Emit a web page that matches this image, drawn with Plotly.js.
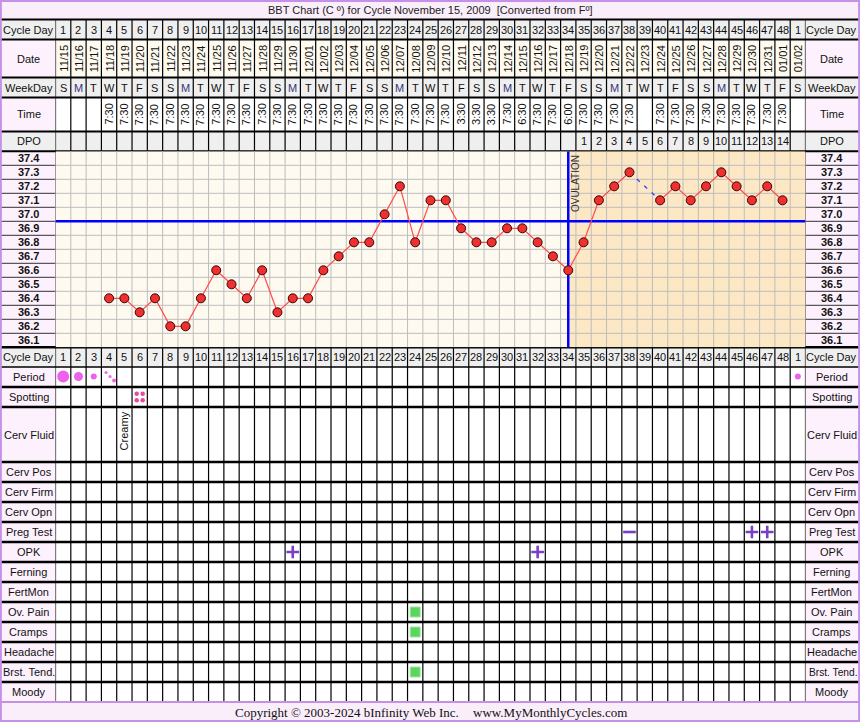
<!DOCTYPE html>
<html>
<head>
<meta charset="utf-8">
<script src="https://cdn.plot.ly/plotly-3.0.1.min.js"></script>
<style>
  html, body { margin: 0; padding: 0; background: #fff; overflow: hidden; }
  #chart { width: 860px; height: 722px; }
</style>
</head>
<body>
<div id="chart"></div>
<script>
// ---- Cycle data -------------------------------------------------------
const cycleDayLabels = ['1','2','3','4','5','6','7','8','9','10','11','12','13','14','15','16','17','18','19','20',
  '21','22','23','24','25','26','27','28','29','30','31','32','33','34','35','36','37','38','39','40',
  '41','42','43','44','45','46','47','48','1'];
const dates = ['11/15','11/16','11/17','11/18','11/19','11/20','11/21','11/22','11/23','11/24','11/25','11/26',
  '11/27','11/28','11/29','11/30','12/01','12/02','12/03','12/04','12/05','12/06','12/07','12/08','12/09',
  '12/10','12/11','12/12','12/13','12/14','12/15','12/16','12/17','12/18','12/19','12/20','12/21','12/22',
  '12/23','12/24','12/25','12/26','12/27','12/28','12/29','12/30','12/31','01/01','01/02'];
const weekDays = ['S','M','T','W','T','F','S','S','M','T','W','T','F','S','S','M','T','W','T','F','S',
  'S','M','T','W','T','F','S','S','M','T','W','T','F','S','S','M','T','W','T','F','S',
  'S','M','T','W','T','F','S'];
const times = ['','','','7:30','7:30','7:30','7:30','7:30','7:30','7:30','7:30','7:30','7:30','7:30','7:30',
  '7:30','7:30','7:30','7:30','7:30','7:30','7:30','7:30','7:30','7:30','7:30','3:30','3:30','3:30','7:30',
  '6:30','7:30','7:30','6:00','7:30','7:30','7:30','7:30','','7:30','7:30','7:30','7:30','7:30','7:30',
  '7:30','7:30','7:30',''];
const dpo = ['','','','','','','','','','','','','','','','','','','','','','','','','','','','','','','','','','',
  '1','2','3','4','5','6','7','8','9','10','11','12','13','14',''];
const temps = [null,null,null,36.4,36.4,36.3,36.4,36.2,36.2,36.4,36.6,36.5,36.4,36.6,36.3,36.4,36.4,36.6,
  36.7,36.8,36.8,37.0,37.2,36.8,37.1,37.1,36.9,36.8,36.8,36.9,36.9,36.8,36.7,36.6,36.8,37.1,37.2,37.3,
  null,37.1,37.2,37.1,37.2,37.3,37.2,37.1,37.2,37.1,null];
const tempTicks = [37.4,37.3,37.2,37.1,37.0,36.9,36.8,36.7,36.6,36.5,36.4,36.3,36.2,36.1];
const coverline = 36.95;
const ovulationDay = 34;

const periodFlow = ['heavy','medium','light','trace',null,null,null,null,null,null,null,null,null,null,null,null,
  null,null,null,null,null,null,null,null,null,null,null,null,null,null,null,null,null,null,null,null,null,
  null,null,null,null,null,null,null,null,null,null,null,'light'];
const spottingDays = [6];
const cervFluidDays = [5];
const cervFluidText = ['Creamy'];
const pregTestDays = [38, 46, 47];
const pregTestResults = ['-', '+', '+'];
const opkDays = [16, 32];
const opkResults = ['+', '+'];
const ovPainDays = [24];
const crampsDays = [24];
const headacheDays = [];
const breastTendDays = [24];
const moodyDays = [];

// ---- Page geometry (pixels) ------------------------------------------
const W = 860, H = 722;
const LX = 55.5, RX = 805.5;            // grid columns live between these
const nCols = cycleDayLabels.length;
const colW = (RX - LX) / nCols;
const chartTop = 151.3, chartBot = 347.3;
const fx = p => p / W;
const fy = p => 1 - p / H;
const days = cycleDayLabels.map((_, i) => i + 1);

const FONT = 'Liberation Sans, Arial, sans-serif';
const C = {
  pink: '#fdf1fd', grey: '#efefef', cream: '#fefaef', peach: '#fde8c5',
  grid: '#bdbdbd', border: '#c490e8', text: '#111111', purple: '#7b3fc6',
  period: '#e41fe6', spot: '#e64aa2', green: '#5ad65e', blue: '#0000ff'
};

const headRows = {
  title: [0, 19.5], cycle: [19.5, 39.5], date: [39.5, 77.5],
  week: [77.5, 97.5], time: [97.5, 131.5], dpo: [131.5, chartTop]
};
const tableRows = [
  ['Cycle Day', chartBot, 367], ['Period', 367, 387], ['Spotting', 387, 407],
  ['Cerv Fluid', 407, 462], ['Cerv Pos', 462, 482], ['Cerv Firm', 482, 502],
  ['Cerv Opn', 502, 522], ['Preg Test', 522, 542], ['OPK', 542, 562],
  ['Ferning', 562, 582], ['FertMon', 582, 602], ['Ov. Pain', 602, 622],
  ['Cramps', 622, 642], ['Headache', 642, 662], ['Brst. Tend.', 662, 682],
  ['Moody', 682, 702]
];
const rowMid = name => { const r = tableRows.find(t => t[0] === name); return (r[1] + r[2]) / 2; };

// ---- Shapes -----------------------------------------------------------
const shapes = [];
function rectPaper(x0, x1, y0, y1, fill) {
  shapes.push({type: 'rect', xref: 'paper', yref: 'paper', x0: fx(x0), x1: fx(x1), y0: fy(y0), y1: fy(y1),
    fillcolor: fill, line: {width: 0}, layer: 'below'});
}
function rectCols(y0, y1, fill) {
  shapes.push({type: 'rect', xref: 'x', yref: 'paper', x0: 0.5, x1: nCols + 0.5, y0: fy(y0), y1: fy(y1),
    fillcolor: fill, line: {width: 0}, layer: 'below'});
}
function hline(y, w, color, x0 = 0, x1 = W) {
  shapes.push({type: 'line', xref: 'paper', yref: 'paper', x0: fx(x0), x1: fx(x1), y0: fy(y), y1: fy(y),
    line: {color: color, width: w}, layer: 'below'});
}

// backgrounds
rectPaper(0, W, 0, 19.5, '#fbeefb');
rectPaper(0, W, 19.5, 39.5, C.grey);
rectPaper(0, W, 39.5, 77.5, C.pink); rectCols(39.5, 77.5, C.cream);
rectPaper(0, W, 77.5, 97.5, C.grey);
rectPaper(0, W, 97.5, 131.5, C.pink); rectCols(97.5, 131.5, '#ffffff');
rectPaper(0, W, 131.5, chartTop, C.grey);
rectPaper(0, W, chartTop, chartBot, C.pink);
shapes.push({type: 'rect', xref: 'x', yref: 'y', x0: 0.5, x1: ovulationDay, y0: 36.05, y1: 37.45,
  fillcolor: C.cream, line: {width: 0}, layer: 'below'});
shapes.push({type: 'rect', xref: 'x', yref: 'y', x0: ovulationDay, x1: nCols + 0.5, y0: 36.05, y1: 37.45,
  fillcolor: C.peach, line: {width: 0}, layer: 'below'});
tableRows.forEach((r, i) => {
  if (i === 0) { rectPaper(0, W, r[1], r[2], C.grey); }
  else { rectPaper(0, W, r[1], r[2], C.pink); rectCols(r[1], r[2], '#ffffff'); }
});
rectPaper(0, W, 702, H, '#fbeefb');

// chart grid (grey) and label-column separators
let gridPath = '';
for (let k = 1; k < nCols; k++) gridPath += `M${k + 0.5},36.05L${k + 0.5},37.45`;
tempTicks.slice(1).forEach(t => { const v = t + 0.05; gridPath += `M0.5,${v}L${nCols + 0.5},${v}`; });
shapes.push({type: 'path', xref: 'x', yref: 'y', path: gridPath, line: {color: C.grid, width: 1}, layer: 'below'});
tempTicks.slice(1).forEach(t => {
  const v = t + 0.05;
  shapes.push({type: 'line', xref: 'paper', yref: 'y', x0: 0, x1: fx(LX), y0: v, y1: v, line: {color: '#333', width: 1}, layer: 'below'});
  shapes.push({type: 'line', xref: 'paper', yref: 'y', x0: fx(RX), x1: 1, y0: v, y1: v, line: {color: '#333', width: 1}, layer: 'below'});
});

// black column lines in header and table
let colPath = '';
for (let k = 0; k <= nCols; k++) {
  colPath += `M${k + 0.5},${fy(19.5)}L${k + 0.5},${fy(chartTop)}`;
  colPath += `M${k + 0.5},${fy(chartBot)}L${k + 0.5},${fy(702)}`;
}
shapes.push({type: 'path', xref: 'x', yref: 'paper', path: colPath, line: {color: '#000', width: 1.2}, layer: 'below'});
[0.5, nCols + 0.5].forEach(x => shapes.push({type: 'line', xref: 'x', yref: 'paper', x0: x, x1: x,
  y0: fy(chartTop), y1: fy(chartBot), line: {color: '#000', width: 1.2}, layer: 'below'}));

// row separators
[19.5, 39.5, 77.5, 97.5, 131.5].forEach(y => hline(y, 2, '#000'));
hline(chartTop, 2, '#000');
hline(chartBot, 2.5, '#000');
tableRows.forEach((r, i) => { if (i < tableRows.length - 1) hline(r[2], i === 0 ? 1.5 : 2.5, '#000'); });
hline(702, 2, C.border);

// coverline and ovulation marker
shapes.push({type: 'line', xref: 'x', yref: 'y', x0: 0.5, x1: nCols + 0.5, y0: coverline, y1: coverline,
  line: {color: C.blue, width: 2.5}, layer: 'below'});
shapes.push({type: 'line', xref: 'x', yref: 'y', x0: ovulationDay, x1: ovulationDay, y0: 36.05, y1: 37.45,
  line: {color: C.blue, width: 2.5}, layer: 'below'});

// outer frame
shapes.push({type: 'rect', xref: 'paper', yref: 'paper', x0: 0.001, x1: 0.999, y0: 0.0014, y1: 0.9986,
  line: {color: C.border, width: 2}, fillcolor: 'rgba(0,0,0,0)', layer: 'above'});

// ---- Text ------------------------------------------------------------
const annotations = [];
function txt(x, xref, y, yref, text, o = {}) {
  annotations.push(Object.assign({
    x: x, y: y, xref: xref, yref: yref, text: text, showarrow: false,
    xanchor: 'center', yanchor: 'middle',
    font: {family: FONT, size: 11, color: C.text}
  }, o));
}
const mid = r => (r[0] + r[1]) / 2;
const leftMid = fx(LX / 2 + 1), rightMid = fx((RX + W) / 2 - 1);

txt(0.5, 'paper', fy(mid(headRows.title)), 'paper',
  'BBT Chart (C º) for Cycle November 15, 2009  [Converted from Fº]', {font: {family: FONT, size: 11, color: '#222'}});

[['Cycle Day', headRows.cycle], ['Date', headRows.date], ['WeekDay', headRows.week],
 ['Time', headRows.time], ['DPO', headRows.dpo]].forEach(([lab, r]) => {
  txt(leftMid, 'paper', fy(mid(r)), 'paper', lab);
  txt(rightMid, 'paper', fy(mid(r)), 'paper', lab);
});

days.forEach((d, i) => {
  txt(d, 'x', fy(mid(headRows.cycle)), 'paper', cycleDayLabels[i]);
  txt(d, 'x', fy(mid(headRows.date)), 'paper', dates[i], {textangle: -90});
  txt(d, 'x', fy(mid(headRows.week)), 'paper', weekDays[i],
    {font: {family: FONT, size: 11, color: weekDays[i] === 'M' ? '#34347a' : C.text}});
  if (times[i]) txt(d, 'x', fy(mid(headRows.time)), 'paper', times[i], {textangle: -90});
  if (dpo[i]) txt(d, 'x', fy(mid(headRows.dpo)), 'paper', dpo[i]);
  txt(d, 'x', fy(mid([tableRows[0][1], tableRows[0][2]])), 'paper', cycleDayLabels[i]);
});

tempTicks.forEach(t => {
  const f = {family: FONT, size: 11, color: C.text, weight: 'bold'};
  txt(leftMid, 'paper', t, 'y', t.toFixed(1), {font: f});
  txt(rightMid, 'paper', t, 'y', t.toFixed(1), {font: f});
});

tableRows.forEach(r => {
  txt(leftMid, 'paper', fy((r[1] + r[2]) / 2), 'paper', r[0]);
  if (r[0] === 'Brst. Tend.') {
    txt(fx(RX + 1), 'paper', fy((r[1] + r[2]) / 2), 'paper', r[0],
      {xanchor: 'left', font: {family: FONT, size: 10.2, color: C.text}});
  } else {
    txt(rightMid, 'paper', fy((r[1] + r[2]) / 2), 'paper', r[0]);
  }
});

txt(ovulationDay, 'x', 37.45, 'y', 'OVULATION',
  {textangle: -90, xshift: 8, yanchor: 'top', yshift: -2, font: {family: FONT, size: 10, color: '#333'}});

cervFluidDays.forEach((d, i) => {
  txt(d, 'x', fy(431), 'paper', cervFluidText[i], {textangle: -90});
});

txt(fx(233), 'paper', fy(712.5), 'paper', 'Copyright © 2003-2024 bInfinity Web Inc.',
  {xanchor: 'left', font: {family: 'Liberation Serif, Times New Roman, serif', size: 13, color: '#111'}});
txt(fx(471), 'paper', fy(712.5), 'paper', 'www.MyMonthlyCycles.com',
  {xanchor: 'left', font: {family: 'Liberation Serif, Times New Roman, serif', size: 13, color: '#111'}});

// ---- Traces -----------------------------------------------------------
// dashed bridges across days with no reading
const bx = [], by = [];
for (let i = 0; i < temps.length; i++) {
  if (temps[i] !== null) continue;
  let p = i - 1; while (p >= 0 && temps[p] === null) p--;
  let n = i + 1; while (n < temps.length && temps[n] === null) n++;
  if (p >= 0 && n < temps.length) { bx.push(days[p], days[n], null); by.push(temps[p], temps[n], null); i = n - 1; }
}
const bridge = {x: bx, y: by, xaxis: 'x', yaxis: 'y', mode: 'lines', hoverinfo: 'skip',
  line: {color: '#3c3cff', width: 1.3, dash: '4px,6px'}};

const tempTrace = {x: days, y: temps, xaxis: 'x', yaxis: 'y', mode: 'lines+markers', connectgaps: false,
  line: {color: '#ff4b4b', width: 1.2},
  marker: {size: 9, color: '#ee3030', line: {color: '#3a0505', width: 1}}, cliponaxis: false};

// period flow dots
const flowSize = {heavy: 12, medium: 9, light: 6};
const traceDots = [[-3, -4.5, 3], [1, -0.5, 3], [5, 3.5, 4]];
const px = [], pyv = [], ps = [];
periodFlow.forEach((f, i) => {
  if (!f) return;
  if (f === 'trace') {
    traceDots.forEach(([dx, dy, s]) => { px.push(days[i] + dx / colW); pyv.push(rowMid('Period') + dy); ps.push(s); });
  } else { px.push(days[i]); pyv.push(rowMid('Period') - 0.5); ps.push(flowSize[f]); }
});
const periodTrace = {x: px, y: pyv, xaxis: 'x', yaxis: 'y2', mode: 'markers', hoverinfo: 'skip',
  marker: {size: ps, color: C.period, line: {width: 0}}};

// spotting: four small dots in a square
const sx = [], sy = [];
spottingDays.forEach(d => {
  [[-3, -3.3], [3, -3.3], [-3, 3.3], [3, 3.3]].forEach(([dx, dy]) => { sx.push(d + dx / colW); sy.push(rowMid('Spotting') + dy); });
});
const spotTrace = {x: sx, y: sy, xaxis: 'x', yaxis: 'y2', mode: 'markers', hoverinfo: 'skip',
  marker: {size: 4.5, color: C.spot, line: {width: 0}}};

// test results as plus / minus glyphs
function testTrace(ds, results, row) {
  return {x: ds, y: ds.map(() => rowMid(row)), xaxis: 'x', yaxis: 'y2', mode: 'markers', hoverinfo: 'skip',
    marker: {symbol: results.map(r => r === '+' ? 'cross-thin' : 'line-ew'), size: 9,
      color: C.purple, line: {color: C.purple, width: 2.6}}};
}

function symptomTrace(ds, row) {
  return {x: ds, y: ds.map(() => rowMid(row)), xaxis: 'x', yaxis: 'y2', mode: 'markers', hoverinfo: 'skip',
    marker: {symbol: 'square', size: 10, color: C.green, line: {color: '#9fe6a0', width: 1}}};
}

const data = [
  bridge, tempTrace, periodTrace, spotTrace,
  testTrace(pregTestDays, pregTestResults, 'Preg Test'),
  testTrace(opkDays, opkResults, 'OPK'),
  symptomTrace(ovPainDays, 'Ov. Pain'),
  symptomTrace(crampsDays, 'Cramps'),
  symptomTrace(headacheDays, 'Headache'),
  symptomTrace(breastTendDays, 'Brst. Tend.'),
  symptomTrace(moodyDays, 'Moody')
];

const hidden = {visible: false, fixedrange: true, showgrid: false, zeroline: false};
const layout = {
  width: W, height: H, margin: {l: 0, r: 0, t: 0, b: 0},
  paper_bgcolor: '#ffffff', plot_bgcolor: 'rgba(0,0,0,0)',
  showlegend: false, hovermode: false,
  xaxis: Object.assign({domain: [fx(LX), fx(RX)], range: [0.5, nCols + 0.5], anchor: 'y'}, hidden),
  yaxis: Object.assign({domain: [fy(chartBot), fy(chartTop)], range: [36.05, 37.45], anchor: 'x'}, hidden),
  yaxis2: Object.assign({domain: [0, 1], range: [H, 0], anchor: 'x'}, hidden),
  shapes: shapes, annotations: annotations
};

Plotly.newPlot('chart', data, layout, {displayModeBar: false, staticPlot: true});
</script>
</body>
</html>
